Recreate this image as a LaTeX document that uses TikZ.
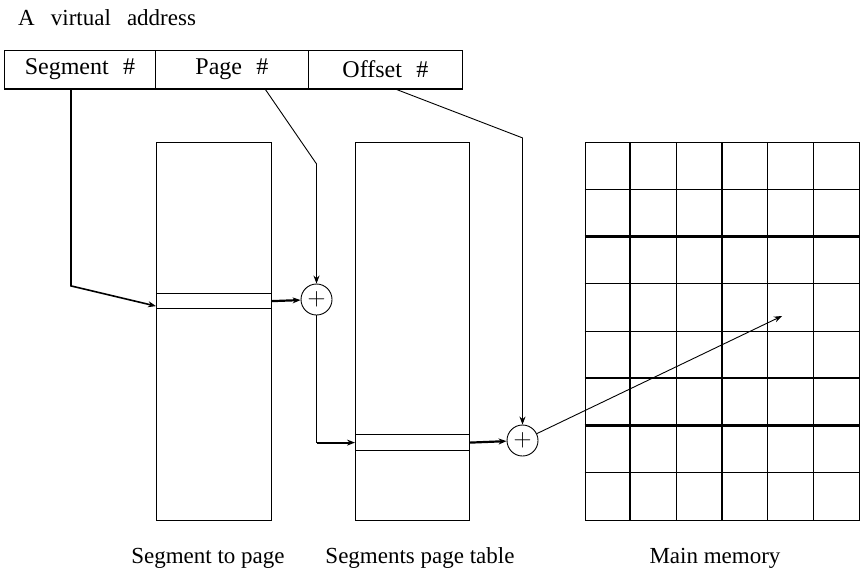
\documentclass[tikz,border=0pt]{standalone}
\usepackage{fontspec}
\setmainfont{Liberation Serif}
\usetikzlibrary{arrows.meta}

\begin{document}
\begin{tikzpicture}[
  x=1pt, y=-1pt,
  fld/.style={draw, line width=0.9pt, minimum height=38pt, inner sep=0pt,
              anchor=north west, font=\fontsize{24}{26}\selectfont},
  tab/.style={draw, line width=1.2pt, minimum width=115pt, minimum height=378pt,
              inner sep=0pt, anchor=north west},
  row/.style={draw, line width=1.2pt, minimum width=115pt, minimum height=15pt,
              inner sep=0pt, anchor=north west},
  adder/.style={draw, circle, line width=0.9pt, minimum size=31pt, inner sep=0pt,
                font=\fontsize{24}{24}\selectfont},
  lbl/.style={font=\fontsize{23}{26}\selectfont, inner sep=0pt},
  link/.style={line width=0.9pt, -{Stealth[length=8pt, width=6pt]}},
  bold/.style={line width=2.2pt}
]
\useasboundingbox (0,0) rectangle (867,571);

% title
\node[lbl, anchor=base west] (title) at (18,25)
  {A\hspace{0.7em}virtual\hspace{0.7em}address};

% virtual address fields
\node[fld, minimum width=151pt] (seg) at (4,50) {Segment\hspace{0.6em}\#\hspace{18pt}};
\node[fld, minimum width=153pt] (pg)  at (155,50) {Page\hspace{0.6em}\#\hspace{18pt}};
\node[fld, minimum width=154pt] (off) at (308,50) {Offset\hspace{0.6em}\#\hspace{8pt}};
\draw[bold] (seg.south west) -- (off.south east);

% tables
\node[tab] (segtab) at (156,142) {};
\node[row] (segrow) at (156,293) {};
\node[tab, minimum width=114pt] (pgtab) at (355,142) {};
\node[row, minimum width=114pt, minimum height=16pt] (pgrow) at (355,434) {};

% adders
\node[adder] (addA) at (316.5,299.5) {$+$};
\node[adder] (addB) at (522.5,440.5) {$+$};

% main memory
\node[draw, line width=1.2pt, minimum width=274.5pt, minimum height=378pt,
      inner sep=0pt, anchor=north west] (mem) at (584.5,142) {};
\foreach \c in {2,3,4,5}{
  \draw[line width=1pt] (584.5+\c*45.75,142) -- ++(0,378);
}
\foreach \c in {1,3}{
  \draw[bold] (584.5+\c*45.75,142) -- ++(0,378);
}
\foreach \r in {1,3,4,7}{
  \draw[line width=1pt] (584.5,142+\r*47.25) -- ++(274.5,0);
}
\foreach \r in {2,5,6}{
  \draw[bold] (584.5,142+\r*47.25) -- ++(274.5,0);
}

% connectors
\draw[link, line width=1.6pt] ([xshift=67pt]seg.south west) -- ++(0,197)
  -- ([yshift=-5pt]segrow.west);
\draw[link] ([xshift=110pt]pg.south west) -- ++(51.5,75) -- (addA);
\draw[link] ([xshift=87pt]off.south west) -- ++(127.5,49) -- (addB);
\draw[link, bold] (segrow.east) -- (addA);
\draw[line width=0.9pt] (addA.south) -- (addA.south |- pgrow.west);
\draw[link, bold] (addA.south |- pgrow.west) -- (pgrow.west);
\draw[link, bold] (pgrow.east) -- (addB);
\coordinate (hit) at (782,316);
\draw[link] (addB) -- (hit);

% captions
\node[lbl, anchor=base] (segcap) at (208,563) {Segment to page};
\node[lbl, anchor=base] (pgcap)  at (420,563) {Segments page table};
\node[lbl, anchor=base] (memcap) at (715,563) {Main memory};

\end{tikzpicture}
\end{document}
